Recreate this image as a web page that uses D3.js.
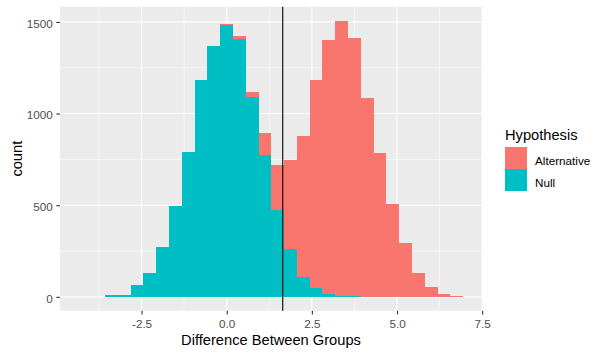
<!DOCTYPE html>
<html>
<head>
<meta charset="utf-8">
<script src="https://cdn.jsdelivr.net/npm/d3@7"></script>
<style>
  body { margin: 0; background: #ffffff; }
  svg { display: block; font-family: "Liberation Sans", Arial, sans-serif; }
</style>
</head>
<body>
<svg id="chart" width="606" height="356"></svg>
<script>
// Bin lower edges (width ~0.375)
const binEdges = [-3.571, -3.196, -2.820, -2.445, -2.069, -1.694, -1.319, -0.943, -0.568, -0.192,
                  0.183, 0.558, 0.934, 1.309, 1.685, 2.060, 2.435, 2.811, 3.186, 3.562,
                  3.937, 4.313, 4.688, 5.063, 5.439, 5.814, 6.189, 6.565, 6.940];
const nullCounts = [10, 10, 64, 131, 272, 496, 791, 1181, 1371, 1484,
                    1409, 1088, 775, 474, 261, 108, 49, 15, 6, 5,
                    0, 0, 0, 0, 0, 0, 0, 0];
const altCounts = [0, 0, 0, 0, 0, 0, 0, 0, 0, 7,
                   16, 31, 120, 246, 486, 770, 1136, 1388, 1499, 1406,
                   1086, 786, 509, 294, 130, 55, 15, 4];
const groups = ["Alternative", "Null"];
const groupColors = ["#F8766D", "#00BFC4"];
const xTicks = [-2.5, 0, 2.5, 5, 7.5];
const xMinor = [-3.75, -1.25, 1.25, 3.75, 6.25];
const yTicks = [0, 500, 1000, 1500];
const yMinor = [250, 750, 1250];
const criticalValue = 1.645;

const svg = d3.select("#chart");
const panel = { left: 60, right: 482, top: 6.7, bottom: 310.7 };

const x = d3.scaleLinear().domain([-4.894, 7.495]).range([panel.left, panel.right]);
const y = d3.scaleLinear().domain([-75.5, 1583]).range([panel.bottom, panel.top]);

// panel background
svg.append("rect")
  .attr("x", panel.left).attr("y", panel.top)
  .attr("width", panel.right - panel.left).attr("height", panel.bottom - panel.top)
  .attr("fill", "#EBEBEB");

// minor grid
const g = svg.append("g");
g.selectAll(".vminor").data(xMinor).enter().append("line")
  .attr("x1", d => x(d)).attr("x2", d => x(d))
  .attr("y1", panel.top).attr("y2", panel.bottom)
  .attr("stroke", "#fff").attr("stroke-width", 0.55);
g.selectAll(".hminor").data(yMinor).enter().append("line")
  .attr("y1", d => y(d)).attr("y2", d => y(d))
  .attr("x1", panel.left).attr("x2", panel.right)
  .attr("stroke", "#fff").attr("stroke-width", 0.55);
// major grid
g.selectAll(".vmajor").data(xTicks).enter().append("line")
  .attr("x1", d => x(d)).attr("x2", d => x(d))
  .attr("y1", panel.top).attr("y2", panel.bottom)
  .attr("stroke", "#fff").attr("stroke-width", 1.1);
g.selectAll(".hmajor").data(yTicks).enter().append("line")
  .attr("y1", d => y(d)).attr("y2", d => y(d))
  .attr("x1", panel.left).attr("x2", panel.right)
  .attr("stroke", "#fff").attr("stroke-width", 1.1);

// bars (stacked: Null at bottom, Alternative on top)
const binW = binEdges[1] - binEdges[0];
const bins = binEdges.slice(0, nullCounts.length).map((e, i) => ({
  x0: e, x1: binEdges[i + 1] !== undefined ? binEdges[i + 1] : e + binW,
  nul: nullCounts[i], alt: altCounts[i]
}));
const bars = svg.append("g");
bars.selectAll(".null").data(bins.filter(d => d.nul > 0)).enter().append("rect")
  .attr("x", d => x(d.x0)).attr("width", d => x(d.x1) - x(d.x0))
  .attr("y", d => y(d.nul)).attr("height", d => y(0) - y(d.nul))
  .attr("fill", groupColors[1]).attr("shape-rendering", "crispEdges");
bars.selectAll(".alt").data(bins.filter(d => d.alt > 0)).enter().append("rect")
  .attr("x", d => x(d.x0)).attr("width", d => x(d.x1) - x(d.x0))
  .attr("y", d => y(d.nul + d.alt)).attr("height", d => y(d.nul) - y(d.nul + d.alt))
  .attr("fill", groupColors[0]).attr("shape-rendering", "crispEdges");

// vertical reference line
svg.append("line")
  .attr("x1", x(criticalValue)).attr("x2", x(criticalValue))
  .attr("y1", panel.top).attr("y2", panel.bottom)
  .attr("stroke", "#000").attr("stroke-width", 1.1);

// axes
const xAxis = d3.axisBottom(x).tickValues(xTicks).tickFormat(d3.format(".1f")).tickSize(3.7).tickPadding(5);
const xg = svg.append("g").attr("transform", `translate(0,${panel.bottom})`).call(xAxis);
xg.select(".domain").remove();
xg.selectAll(".tick line").attr("stroke", "#333333").attr("stroke-width", 1.1);
xg.selectAll(".tick text").attr("fill", "#4D4D4D").attr("font-size", "11.7px")
  .attr("font-family", "Liberation Sans, Arial, sans-serif").attr("dy", "0.71em")
  .text(d => d3.format(".1f")(d).replace("−", "-"));

const yAxis = d3.axisLeft(y).tickValues(yTicks).tickFormat(d3.format("d")).tickSize(3.7).tickPadding(3.5);
const yg = svg.append("g").attr("transform", `translate(${panel.left},0)`).call(yAxis);
yg.select(".domain").remove();
yg.selectAll(".tick line").attr("stroke", "#333333").attr("stroke-width", 1.1);
yg.selectAll(".tick text").attr("fill", "#4D4D4D").attr("font-size", "11.7px")
  .attr("font-family", "Liberation Sans, Arial, sans-serif").attr("dy", "0.44em");

// axis titles
svg.append("text")
  .attr("x", (panel.left + panel.right) / 2).attr("y", 344.5)
  .attr("text-anchor", "middle").attr("font-size", "14.67px").attr("fill", "#000")
  .text("Difference Between Groups");
svg.append("text")
  .attr("transform", `translate(21.5,${(panel.top + panel.bottom) / 2}) rotate(-90)`)
  .attr("text-anchor", "middle").attr("font-size", "14.67px").attr("fill", "#000")
  .text("count");

// legend
const lg = svg.append("g");
lg.append("text").attr("x", 505).attr("y", 139.5).attr("font-size", "14.67px").attr("fill", "#000").text("Hypothesis");
groups.forEach((name, i) => {
  lg.append("rect").attr("x", 505).attr("y", 147 + i * 22).attr("width", 22).attr("height", 22)
    .attr("fill", groupColors[i]);
  lg.append("text").attr("x", 535).attr("y", 164.5 + i * 22).attr("font-size", "11.7px").attr("fill", "#000")
    .text(name);
});
</script>
</body>
</html>
